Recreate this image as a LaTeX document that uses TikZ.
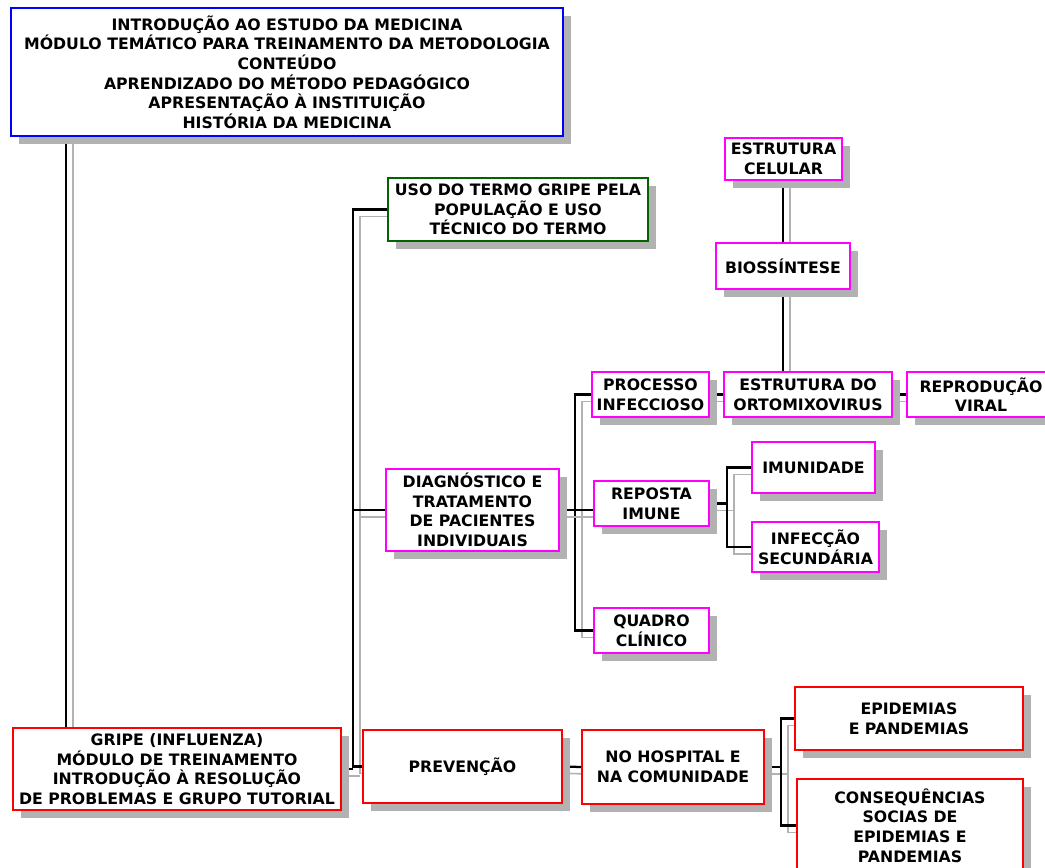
\documentclass[tikz,border=0pt]{standalone}
\usepackage{fontspec}
\setmainfont{DejaVu Sans}
\usetikzlibrary{backgrounds, shadows}

\definecolor{azul}{RGB}{0,0,255}
\definecolor{verde}{RGB}{0,100,0}
\definecolor{rosa}{RGB}{255,0,255}
\definecolor{vermelho}{RGB}{255,0,0}
\definecolor{sombra}{RGB}{178,178,178}

\begin{document}
\begin{tikzpicture}[
        x=0.75pt, y=-0.75pt,
        % Estilo das caixas
        caixa/.style={
                rectangle,
                draw=#1,
                line width=1.5pt,
                fill=white,
                inner sep=0pt,
                align=center,
                font=\bfseries\fontsize{11.8}{14.7}\selectfont,
                drop shadow={shadow xshift=6pt, shadow yshift=-6pt, fill=sombra, opacity=1}
            },
        % Tamanho das caixas (em pixels)
        tam/.style 2 args={
                minimum width=#1*0.75pt,
                minimum height=#2*0.75pt
            },
        % Ligações
        liga/.style={
                line width=1.7pt,
                preaction={draw=sombra, line width=1.2pt, transform canvas={shift={(5.25pt,-5.25pt)}}}
            }
    ]

    \path[use as bounding box, clip] (0,0) rectangle (1045,867);

    % Módulo de introdução
    \node[caixa=azul, tam={552}{128}] (introducao) at (287,72) {INTRODUÇÃO AO ESTUDO DA MEDICINA\\
        MÓDULO TEMÁTICO PARA TREINAMENTO DA METODOLOGIA\\
        CONTEÚDO\\
        APRENDIZADO DO MÉTODO PEDAGÓGICO\\
        APRESENTAÇÃO À INSTITUIÇÃO\\
        HISTÓRIA DA MEDICINA};

    % Módulo gripe
    \node[caixa=vermelho, tam={328}{82}] (gripe) at (177,769) {GRIPE (INFLUENZA)\\
        MÓDULO DE TREINAMENTO\\
        INTRODUÇÃO À RESOLUÇÃO\\
        DE PROBLEMAS E GRUPO TUTORIAL};

    % Primeiro nível
    \node[caixa=verde, tam={260}{63}] (uso) at (518,209.5) {USO DO TERMO GRIPE PELA\\
        POPULAÇÃO E USO\\
        TÉCNICO DO TERMO};
    \node[caixa=rosa, tam={173}{82}] (diag) at (472.5,510) {DIAGNÓSTICO E\\
        TRATAMENTO\\
        DE PACIENTES\\
        INDIVIDUAIS};
    \node[caixa=vermelho, tam={199}{73}] (prevencao) at (462.5,766.5) {PREVENÇÃO};

    % Diagnóstico
    \node[caixa=rosa, tam={117}{45}] (processo) at (650.5,394.5) {PROCESSO\\ INFECCIOSO};
    \node[caixa=rosa, tam={115}{45}] (reposta) at (651.5,503.5) {REPOSTA\\ IMUNE};
    \node[caixa=rosa, tam={115}{45}] (quadro) at (651.5,630.5) {QUADRO\\ CLÍNICO};

    % Vírus
    \node[caixa=rosa, tam={168}{45}] (ortomixo) at (808,394.5) {ESTRUTURA DO\\ ORTOMIXOVIRUS};
    \node[caixa=rosa, tam={148}{45}] (reproducao) at (981,394.5) {REPRODUÇÃO\\ VIRAL};
    \node[caixa=rosa, tam={134}{46}] (biossintese) at (783,266) {BIOSSÍNTESE};
    \node[caixa=rosa, tam={117}{42}] (celular) at (783.5,159) {ESTRUTURA\\ CELULAR};

    % Resposta imune
    \node[caixa=rosa, tam={123}{51}] (imunidade) at (813.5,467.5) {IMUNIDADE};
    \node[caixa=rosa, tam={127}{50}] (infeccao) at (815.5,547) {INFECÇÃO\\ SECUNDÁRIA};

    % Prevenção
    \node[caixa=vermelho, tam={182}{74}] (hospital) at (673,767) {NO HOSPITAL E\\ NA COMUNIDADE};
    \node[caixa=vermelho, tam={228}{63}] (epidemias) at (909,718.5) {EPIDEMIAS\\ E PANDEMIAS};
    \node[caixa=vermelho, tam={226}{93}] (consequencias) at (910,825.5) {CONSEQUÊNCIAS\\
        SOCIAS DE\\
        EPIDEMIAS E\\
        PANDEMIAS};

    % Troncos verticais
    \coordinate (t0) at (66,0);
    \coordinate (t1) at (353,0);
    \coordinate (t2) at (575,0);
    \coordinate (t3) at (727,0);
    \coordinate (t4) at (781,0);

    % Ligações
    \begin{scope}[on background layer]
        \draw[liga] (introducao.south -| t0) -- (gripe.north -| t0);
        \draw[liga] (uso.west) -- (uso.west -| t1) -- (prevencao.west -| t1) -- (prevencao.west);
        \draw[liga] (gripe.east) -- (gripe.east -| t1);
        \draw[liga] (diag.west) -- (diag.west -| t1);
        \draw[liga] (processo.west) -- (processo.west -| t2) -- (quadro.west -| t2) -- (quadro.west);
        \draw[liga] (diag.east) -- (diag.east -| reposta.west);
        \draw[liga] (reposta.east) -- (reposta.east -| t3);
        \draw[liga] (imunidade.west) -- (imunidade.west -| t3) -- (infeccao.west -| t3) -- (infeccao.west);
        \draw[liga] (processo.east) -- (ortomixo.west);
        \draw[liga] (ortomixo.east) -- (reproducao.west);
        \draw[liga] (biossintese.south) -- (biossintese.south |- ortomixo.north);
        \draw[liga] (biossintese.north) -- (biossintese.north |- celular.south);
        \draw[liga] (prevencao.east) -- (hospital.west);
        \draw[liga] (hospital.east) -- (hospital.east -| t4);
        \draw[liga] (epidemias.west) -- (epidemias.west -| t4) -- (consequencias.west -| t4) -- (consequencias.west);
    \end{scope}

\end{tikzpicture}
\end{document}
